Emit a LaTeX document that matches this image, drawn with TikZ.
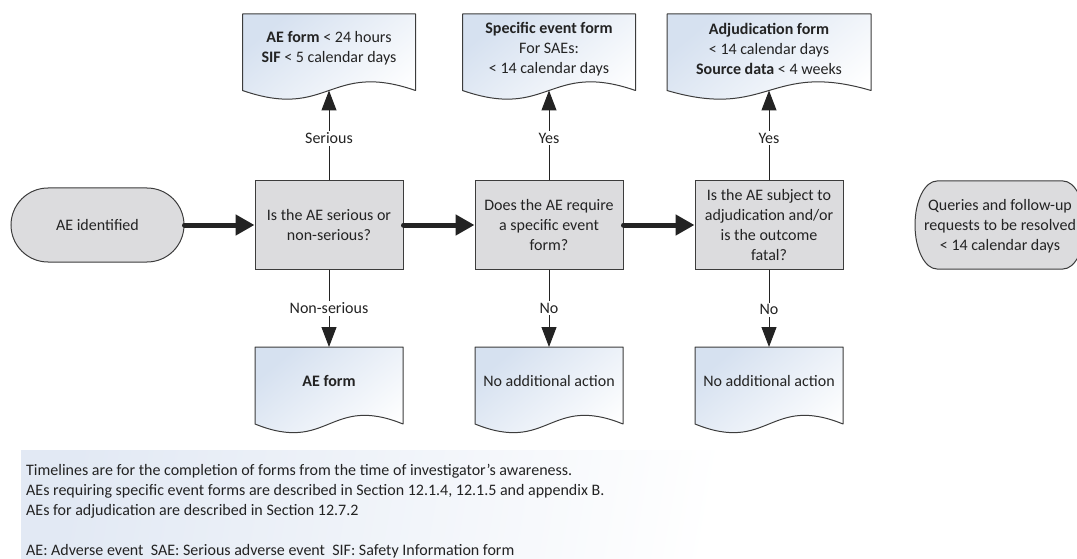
\documentclass[tikz,border=0pt]{standalone}
\usepackage{fontspec}
\setmainfont{Carlito}
\usetikzlibrary{arrows.meta,calc}
\definecolor{boxgray}{RGB}{220,220,222}
\definecolor{edge}{RGB}{60,60,60}
\definecolor{docblue}{RGB}{214,225,240}
\definecolor{txtc}{RGB}{35,35,35}
\definecolor{notebg}{RGB}{226,233,244}
\tikzset{
  proc/.style={draw=edge, line width=1pt, fill=boxgray, minimum width=148pt, minimum height=88pt, inner sep=0pt, align=center},
  docnode/.style={inner sep=0pt, minimum height=#1, outer sep=0pt},
  docfill/.style={draw=edge, line width=1pt, line join=round, top color=docblue, bottom color=white, shading angle=40},
  txt/.style={align=center, inner sep=0pt},
  termfill/.style={draw=edge, line width=1pt, fill=boxgray},
  flow/.style={draw=txtc, line width=1pt, -{Triangle[length=20pt, width=15pt]}},
  bigflow/.style={draw=txtc, line width=5pt, line cap=round, -{Triangle[length=19pt, width=20pt]}},
  lbl/.style={fill=white, inner sep=2pt},
  note/.style={inner sep=0pt, anchor=base west}
}
\newcommand\docpath[1]{%
  \path[docfill] (#1.north west) -- (#1.north east) -- (#1.south east)
    .. controls ($(#1.south)+(0,-30)$) and ($(#1.south)+(0,30)$) .. (#1.south west) -- cycle;}
\begin{document}
\begin{tikzpicture}[x=1pt,y=-1pt, font=\fontsize{16}{20}\selectfont, text=txtc]
\useasboundingbox (0,0) rectangle (1077,559);
\clip (0,0) rectangle (1077,559);

% note background
\path[left color=notebg, right color=white, shading angle=80] (21,450) rectangle (760,559);

% terminator AE identified
\node[draw=edge, line width=1pt, fill=boxgray, rounded corners=37pt, minimum width=173pt, minimum height=74pt, inner sep=0pt] (t1) at (97.5,225) {AE identified};

% decision/process boxes
\node[proc] (b1) at (329,225) {Is the AE serious or\\non-serious?};
\node[proc] (b2) at (549,225) {Does the AE require\\a specific event\\form?};
\node[proc] (b3) at (769,225) {Is the AE subject to\\adjudication and/or\\is the outcome\\fatal?};

% top documents
\node[docnode=76.5pt, minimum width=173pt] (d1) at (329,52.25) {};
\docpath{d1}
\node[txt] (d1t) at (329,48) {\textbf{AE form} < 24 hours\\\textbf{SIF} < 5 calendar days};
\node[docnode=76.5pt, minimum width=173pt] (d2) at (549,52.25) {};
\docpath{d2}
\node[txt] (d2t) at (549,49) {\textbf{Specific event form}\\For SAEs:\\< 14 calendar days};
\node[docnode=76.5pt, minimum width=204pt] (d3) at (769,52.25) {};
\docpath{d3}
\node[txt] (d3t) at (769,49) {\textbf{Adjudication form}\\< 14 calendar days\\\textbf{Source data} < 4 weeks};

% bottom documents
\node[docnode=77pt, minimum width=148pt] (e1) at (329,385.5) {};
\docpath{e1}
\node[txt] (e1t) at (329,381) {\textbf{AE form}};
\node[docnode=77pt, minimum width=148pt] (e2) at (549,385.5) {};
\docpath{e2}
\node[txt] (e2t) at (549,381) {No additional action};
\node[docnode=77pt, minimum width=148pt] (e3) at (769,385.5) {};
\docpath{e3}
\node[txt] (e3t) at (769,381) {No additional action};

% queries terminator
\path[termfill] (937,181) -- (1063,181) arc[start angle=-90, end angle=90, x radius=22, y radius=44]
  -- (937,269) arc[start angle=90, end angle=270, x radius=22, y radius=44] -- cycle;
\node[txt] (q) at (1000,226) {Queries and follow-up\\requests to be resolved\\< 14 calendar days};

% connectors
\draw[bigflow] (t1.east) -- (b1.west);
\draw[bigflow] (b1.east) -- (b2.west);
\draw[bigflow] (b2.east) -- (b3.west);

\draw[flow] (b1.north) -- node[lbl, pos=0.47] {Serious} (d1.south);
\draw[flow] (b2.north) -- node[lbl, pos=0.47] {Yes} (d2.south);
\draw[flow] (b3.north) -- node[lbl, pos=0.47] {Yes} (d3.south);
\draw[flow] (b1.south) -- node[lbl, pos=0.5] {Non-serious} (e1.north);
\draw[flow] (b2.south) -- node[lbl, pos=0.5] {No} (e2.north);
\draw[flow] (b3.south) -- node[lbl, pos=0.52] {No} (e3.north);

% notes
\node[note] (n1) at (26,475) {Timelines are for the completion of forms from the time of investigator's awareness.};
\node[note] (n2) at (26,495) {AEs requiring specific event forms are described in Section 12.1.4, 12.1.5 and appendix B.};
\node[note] (n3) at (26,515) {AEs for adjudication are described in Section 12.7.2};
\node[note] (n4) at (26,555) {AE: Adverse event\ \ SAE: Serious adverse event\ \ SIF: Safety Information form};
\end{tikzpicture}
\end{document}
